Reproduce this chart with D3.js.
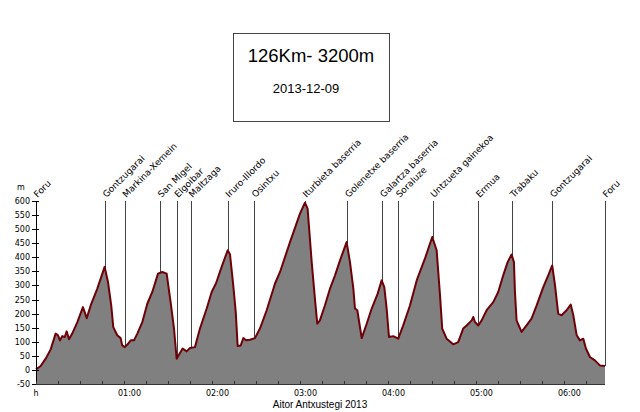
<!DOCTYPE html>
<html>
<head>
<meta charset="utf-8">
<script src="https://cdn.jsdelivr.net/npm/d3@7"></script>
<style>
  body { margin: 0; background: #fff; }
  svg { display: block; }
</style>
</head>
<body>
<svg id="chart"></svg>
<script>
// Profile: time (minutes from start) and altitude (m)
const minutes = [0, 3.2, 6.6, 10.0, 13.4, 15.0, 16.4, 17.9, 19.6, 20.9, 22.5, 24.7, 28.2, 32.0, 34.6, 37.3, 41.8, 46.8,
  49.1, 51.3, 52.7, 55.4, 57.7, 58.8, 60.5, 62.3, 64.6, 66.8, 69.1, 72.5, 75.9, 79.3, 83.2, 86.1, 89.1, 91.8, 94.1,
  95.9, 98.0, 100.0, 102.7, 105.0, 108.4, 111.8, 116.4, 119.8, 122.7, 126.6, 130.7, 132.3, 134.5, 136.2, 137.5,
  139.6, 141.4, 143.2, 145.9, 149.3, 152.7, 157.3, 163.0, 166.4, 173.2, 180.0, 183.4, 185.2, 188.0, 190.2, 191.8,
  193.6, 197.0, 200.5, 203.9, 207.3, 211.8, 214.1, 216.4, 217.5, 219.1, 222.1, 225.5, 228.9, 233.0, 235.7, 237.5,
  239.1, 240.7, 243.6, 247.0, 250.4, 255.0, 259.6, 265.2, 270.2, 273.2, 275.5, 277.0, 280.0, 284.5, 287.9, 291.3,
  293.7, 297.1, 298.2, 299.3, 301.6, 303.9, 307.3, 311.8, 315.2, 318.6, 321.6, 324.3, 325.9, 326.6, 327.7, 331.1,
  334.5, 337.9, 341.4, 345.9, 349.3, 352.0, 353.9, 356.1, 358.4, 361.8, 364.6, 366.4, 368.7, 370.9, 373.2, 375.0,
  377.7, 381.1, 384.5, 388.0];
const altitude = [2, 14, 40, 73, 129, 123, 105, 120, 117, 137, 109, 129, 170, 223, 184, 229, 289, 366,
  312, 229, 152, 123, 113, 87, 81, 90, 105, 105, 129, 170, 235, 277, 342, 348, 342, 241, 147,
  40, 58, 76, 66, 78, 81, 147, 218, 277, 307, 366, 425, 410, 301, 206, 85,
  87, 113, 105, 107, 113, 147, 212, 307, 348, 454, 555, 594, 573, 383, 253, 164,
  176, 229, 289, 336, 389, 454, 383, 289, 218, 212, 113, 164, 218, 271, 318, 294,
  218, 117, 120, 111, 158, 229, 318, 395, 472, 425, 265, 147, 111, 91, 99, 147,
  158, 176, 188, 170, 158, 176, 212, 241, 277, 336, 383, 410, 383, 277, 176, 135,
  158, 182, 229, 294, 336, 371, 301, 200, 194, 212, 232, 194, 123, 105, 111, 76,
  46, 34, 16, 14];

// Waypoints
const placeNames = ["Foru", "Gontzugarai", "Markina-Xemein", "San Migel", "Elgoibar", "Maltzaga", "Iruro-Illordo",
  "Osintxu", "Iturbieta baserria", "Golenetxe baserria", "Galartza baserria", "Soraluze", "Untzueta gainekoa",
  "Ermua", "Trabaku", "Gontzugarai", "Foru"];
const placeMinutes = [0, 47.0, 60.5, 84.5, 95.9, 105.7, 130.7, 148.6, 183.4, 212.3, 236.1, 247.0, 270.5,
  301.6, 324.8, 352.0, 388.0];

const yTicks = [-50, 0, 50, 100, 150, 200, 250, 300, 350, 400, 450, 500, 550, 600];
const hourTicks = [0, 60, 120, 180, 240, 300, 360];
const hourLabels = ["h", "01:00", "02:00", "03:00", "04:00", "05:00", "06:00"];

const width = 640, height = 412;
const svg = d3.select("#chart").attr("width", width).attr("height", height);

const x = d3.scaleLinear().domain([0, 388]).range([36, 605]);
const y = d3.scaleLinear().domain([-50, 600]).range([384, 201]);

const profile = minutes.map((m, i) => ({ t: m, e: altitude[i] }));

// Title box
svg.append("rect")
    .attr("x", 233.5).attr("y", 33.5)
    .attr("width", 156).attr("height", 88)
    .attr("fill", "#fff")
    .attr("stroke", "#444");
svg.append("text")
    .attr("x", 311).attr("y", 62)
    .attr("text-anchor", "middle")
    .style("font", "18.5px 'Liberation Sans', Arial, sans-serif")
    .text("126Km- 3200m");
svg.append("text")
    .attr("x", 306).attr("y", 93)
    .attr("text-anchor", "middle")
    .style("font", "13px 'Liberation Sans', Arial, sans-serif")
    .text("2013-12-09");

// Area + line
const area = d3.area()
    .x(d => x(d.t))
    .y0(y(-50))
    .y1(d => y(d.e));
const line = d3.line()
    .x(d => x(d.t))
    .y(d => y(d.e));

svg.append("path")
    .datum(profile)
    .attr("d", area)
    .attr("fill", "#808080");

// Waypoint lines and labels
const bisect = d3.bisector(d => d.t).left;
function altAt(t) {
    const i = Math.min(Math.max(bisect(profile, t), 1), profile.length - 1);
    const a = profile[i - 1], b = profile[i];
    const k = (t - a.t) / (b.t - a.t || 1);
    return a.e + (b.e - a.e) * Math.max(0, Math.min(1, k));
}

const places = placeNames.map((n, i) => ({ name: n, t: placeMinutes[i] }));

svg.append("g")
    .selectAll("line")
    .data(places)
    .join("line")
    .attr("x1", d => Math.round(x(d.t)) + 0.5)
    .attr("x2", d => Math.round(x(d.t)) + 0.5)
    .attr("y1", y(600))
    .attr("y2", d => y(altAt(d.t)))
    .attr("stroke", "#444")
    .attr("stroke-width", 1);

svg.append("path")
    .datum(profile)
    .attr("d", line)
    .attr("fill", "none")
    .attr("stroke", "#6e0008")
    .attr("stroke-width", 2)
    .attr("stroke-linejoin", "round");

svg.append("g")
    .selectAll("text")
    .data(places)
    .join("text")
    .attr("transform", d => `translate(${x(d.t) + 1.5},198) rotate(-45)`)
    .style("font", "9px 'DejaVu Sans', Verdana, sans-serif")
    .attr("fill", "#000")
    .text(d => d.name);

// Y axis
const yAxis = svg.append("g");
yAxis.append("line")
    .attr("x1", 36.5).attr("x2", 36.5)
    .attr("y1", y(600)).attr("y2", y(-50))
    .attr("stroke", "#000");
yAxis.selectAll("line.tick")
    .data(yTicks)
    .join("line")
    .attr("class", "tick")
    .attr("x1", 32).attr("x2", 39)
    .attr("y1", d => Math.round(y(d)) + 0.5)
    .attr("y2", d => Math.round(y(d)) + 0.5)
    .attr("stroke", "#000");
yAxis.selectAll("text")
    .data(yTicks)
    .join("text")
    .attr("x", 30)
    .attr("y", d => y(d) + 3)
    .attr("text-anchor", "end")
    .style("font", "8px 'DejaVu Sans', Verdana, sans-serif")
    .text(d => d);
svg.append("text")
    .attr("x", 21).attr("y", 190)
    .attr("text-anchor", "middle")
    .style("font", "8px 'DejaVu Sans', Verdana, sans-serif")
    .text("m");

// X axis
const xAxis = svg.append("g");
xAxis.append("line")
    .attr("x1", 36).attr("x2", 605)
    .attr("y1", 384.5).attr("y2", 384.5)
    .attr("stroke", "#333");
xAxis.selectAll("line.minor")
    .data(d3.range(0, 388, 15))
    .join("line")
    .attr("class", "minor")
    .attr("x1", d => Math.round(x(d)) + 0.5)
    .attr("x2", d => Math.round(x(d)) + 0.5)
    .attr("y1", 381).attr("y2", 385)
    .attr("stroke", "#333");
xAxis.selectAll("text")
    .data(hourTicks)
    .join("text")
    .attr("x", (d, i) => x(d) + (i === 0 ? 0 : 5.5))
    .attr("y", 396)
    .attr("text-anchor", "middle")
    .style("font", "8px 'DejaVu Sans', Verdana, sans-serif")
    .text((d, i) => hourLabels[i]);

svg.append("text")
    .attr("x", 320).attr("y", 407.5)
    .attr("text-anchor", "middle")
    .style("font", "10px 'Liberation Sans', Arial, sans-serif")
    .text("Aitor Antxustegi 2013");
</script>
</body>
</html>
